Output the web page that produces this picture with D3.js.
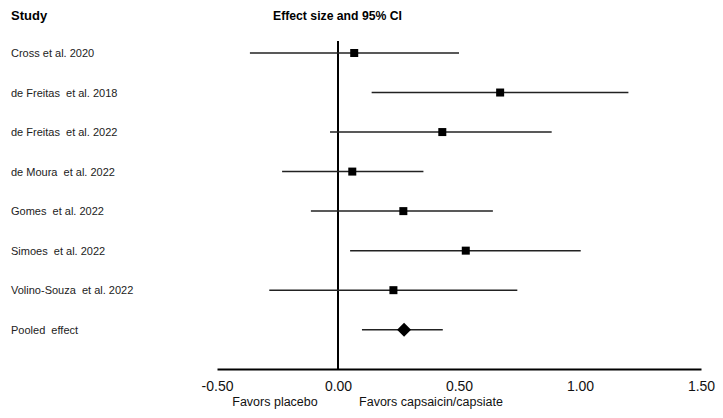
<!DOCTYPE html>
<html><head><meta charset="utf-8">
<script src="https://cdn.jsdelivr.net/npm/d3@7"></script>
<style>body{margin:0;background:#fff;}svg{display:block;font-family:Arial,"Liberation Sans",sans-serif;}</style>
</head><body>
<script>
const studies = ["Cross et al. 2020","de Freitas  et al. 2018","de Freitas  et al. 2022","de Moura  et al. 2022","Gomes  et al. 2022","Simoes  et al. 2022","Volino-Souza  et al. 2022","Pooled  effect"];
const estimate = [0.067, 0.67, 0.431, 0.059, 0.27, 0.528, 0.229, 0.273];
const lower = [-0.364, 0.139, -0.033, -0.231, -0.112, 0.05, -0.284, 0.099];
const upper = [0.5, 1.20, 0.883, 0.353, 0.64, 1.003, 0.741, 0.433];
const tickValues = [-0.5, 0, 0.5, 1.0, 1.5];
const favorLabels = ["Favors placebo", "Favors capsaicin/capsiate"];

const W = 723, H = 418;
const svg = d3.select("body").append("svg").attr("width", W).attr("height", H);
const x = d3.scaleLinear().domain([-0.5, 1.5]).range([217, 701]);
const y = d3.scalePoint().domain(studies).range([53, 329.7]);
const axisY = 369;

svg.append("text").attr("x", 11).attr("y", 20).attr("font-size", 13).attr("font-weight", "bold").text("Study");
svg.append("text").attr("x", 273).attr("y", 20).attr("font-size", 12).attr("font-weight", "bold")
  .attr("textLength", 129).attr("lengthAdjust", "spacingAndGlyphs").text("Effect size and 95% CI");

// study labels
svg.selectAll("text.lab").data(studies).join("text").attr("class", "lab")
  .attr("x", 11).attr("y", d => y(d) + 4).attr("font-size", 11).attr("fill", "#222")
  .style("white-space", "pre").text(d => d);

// zero line
svg.append("line").attr("x1", x(0)).attr("x2", x(0)).attr("y1", 41).attr("y2", axisY)
  .attr("stroke", "#000").attr("stroke-width", 2);

// axis
const axis = d3.axisBottom(x).tickValues(tickValues).tickSize(0).tickPadding(12)
  .tickFormat(d => d.toFixed(2));
const g = svg.append("g").attr("transform", `translate(0,${axisY})`).call(axis);
g.select(".domain").attr("stroke", "#000").attr("stroke-width", 2.2);
g.selectAll("text").attr("font-size", 14).attr("font-family", "Arial, 'Liberation Sans', sans-serif").attr("fill", "#111");

svg.append("text").attr("x", 275).attr("y", 406).attr("text-anchor", "middle").attr("font-size", 12.5).attr("fill", "#111").text(favorLabels[0]);
svg.append("text").attr("x", 431).attr("y", 406).attr("text-anchor", "middle").attr("font-size", 12.5).attr("fill", "#111").text(favorLabels[1]);

const data = studies.map((s, i) => ({s, est: estimate[i], lo: lower[i], hi: upper[i], pooled: i === studies.length - 1}));

svg.selectAll("line.ci").data(data).join("line").attr("class", "ci")
  .attr("x1", d => x(d.lo)).attr("x2", d => x(d.hi))
  .attr("y1", d => y(d.s)).attr("y2", d => y(d.s))
  .attr("stroke", "#222").attr("stroke-width", 1.5);

svg.selectAll("rect.pt").data(data.filter(d => !d.pooled)).join("rect").attr("class", "pt")
  .attr("x", d => x(d.est) - 4).attr("y", d => y(d.s) - 4).attr("width", 8).attr("height", 8).attr("fill", "#000");

svg.selectAll("path.dia").data(data.filter(d => d.pooled)).join("path").attr("class", "dia")
  .attr("d", d => { const cx = x(d.est), cy = y(d.s); return `M${cx - 7},${cy}L${cx},${cy - 7}L${cx + 7},${cy}L${cx},${cy + 7}Z`; })
  .attr("fill", "#000");
</script>
</body></html>
